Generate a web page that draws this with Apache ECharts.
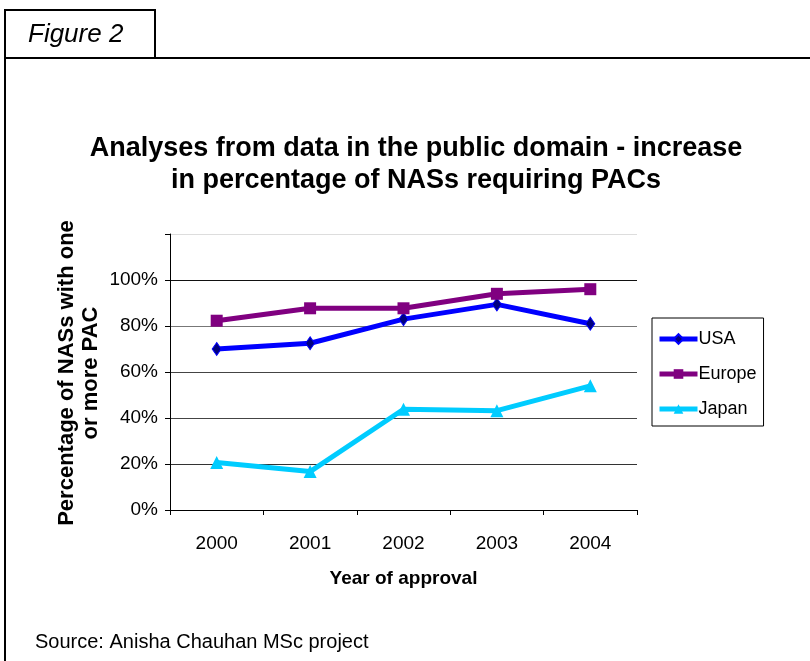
<!DOCTYPE html>
<html><head><meta charset="utf-8">
<script src="https://cdn.jsdelivr.net/npm/echarts@6/dist/echarts.min.js"></script>
<style>html,body{margin:0;padding:0;background:#fff}#c{width:810px;height:661px}</style>
</head><body><div id="c"></div>
<script>
const years = ['2000','2001','2002','2003','2004'];
const usa = [0.70, 0.725, 0.83, 0.894, 0.81];
const europe = [0.823, 0.877, 0.877, 0.94, 0.96];
const japan = [0.207, 0.167, 0.438, 0.432, 0.54];
const yTicks = [0, 0.2, 0.4, 0.6, 0.8, 1.0];

const chart = echarts.init(document.getElementById('c'));
const F = 'Liberation Sans, Arial, sans-serif';
chart.setOption({
  animation: false,
  textStyle: {fontFamily: F},
  title: {
    text: 'Analyses from data in the public domain - increase\nin percentage of NASs requiring PACs',
    left: 411, top: 128, textAlign: 'center',
    textStyle: {fontSize: 27, fontWeight: 'bold', color: '#000', lineHeight: 32, fontFamily: F}
  },
  grid: {left: 170, right: 173, top: 234, bottom: 151},
  legend: {
    orient: 'vertical', left: 652, top: 318,
    itemWidth: 38, itemHeight: 12, itemGap: 17,
    padding: [12, 7, 8, 5],
    borderColor: '#000', borderWidth: 1,
    lineStyle: {width: 5},
    textStyle: {fontSize: 18, color: '#000', fontFamily: F, padding: [0,0,0,-4]},
    data: ['USA', 'Europe', 'Japan']
  },
  xAxis: {
    type: 'category', data: years, boundaryGap: true,
    name: 'Year of approval', nameLocation: 'middle', nameGap: 59,
    nameTextStyle: {fontSize: 19, fontWeight: 'bold', color: '#000', fontFamily: F},
    axisLine: {lineStyle: {color: '#000', width: 1}},
    axisTick: {show: true, length: 5, lineStyle: {color: '#000'}},
    axisLabel: {fontSize: 19, color: '#000', margin: 24, fontFamily: F}
  },
  yAxis: {
    type: 'value', min: 0, max: 1.2, interval: 0.2,
    axisLine: {show: true, lineStyle: {color: '#000', width: 1}},
    axisTick: {show: true, length: 5, lineStyle: {color: '#000'}},
    axisLabel: {fontSize: 19, color: '#000', margin: 12, fontFamily: F,
      formatter: v => yTicks.some(t => Math.abs(t - v) < 1e-6) ? Math.round(v * 100) + '%' : ''},
    splitLine: {show: true, lineStyle: {color: ['#000', '#333', '#444', '#444', '#777', '#111', '#ddd'], width: 1}}
  },
  series: [
    {name: 'USA', type: 'line', data: usa, symbol: 'diamond', symbolSize: [9, 13],
     lineStyle: {color: '#0000ff', width: 5}, itemStyle: {color: '#000080', borderColor: '#0000ff', borderWidth: 1}, color: '#0000ff'},
    {name: 'Europe', type: 'line', data: europe, symbol: 'rect', symbolSize: 12,
     lineStyle: {color: '#800080', width: 5}, itemStyle: {color: '#800080'}, color: '#800080'},
    {name: 'Japan', type: 'line', data: japan, symbol: 'triangle', symbolSize: 13,
     lineStyle: {color: '#00ccff', width: 5}, itemStyle: {color: '#00ccff'}, color: '#00ccff'}
  ],
  graphic: [
    {type: 'polyline', shape: {points: [[5, 661], [5, 10], [155, 10], [155, 58]]}, style: {stroke: '#000', lineWidth: 2, fill: null}},
    {type: 'line', shape: {x1: 5, y1: 58, x2: 810, y2: 58}, style: {stroke: '#000', lineWidth: 2}},
    {type: 'text', left: 28, top: 22, style: {text: 'Figure 2', font: 'italic 26px Liberation Sans, Arial, sans-serif', fill: '#000'}},
    {type: 'text', left: 35, top: 632, style: {text: 'Source: Anisha Chauhan MSc project', font: '20px Liberation Sans, Arial, sans-serif', fill: '#000'}},
    {type: 'text', x: 79, y: 373, rotation: Math.PI / 2,
     style: {text: 'Percentage of NASs with one\nor more PAC', font: 'bold 22px Liberation Sans, Arial, sans-serif',
             lineHeight: 24, align: 'center', verticalAlign: 'middle', fill: '#000'}}
  ]
});
</script></body></html>
